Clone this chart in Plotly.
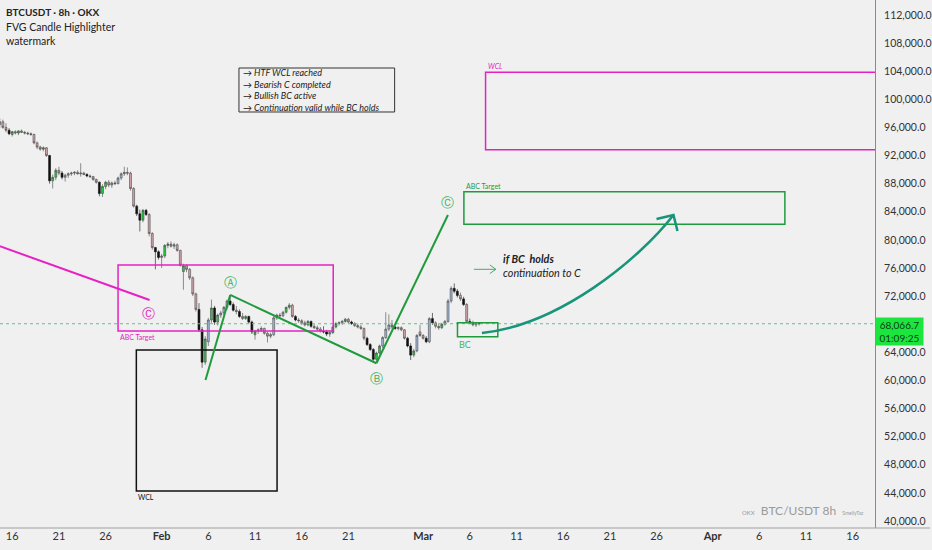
import pandas as pd
import plotly.graph_objects as go

# BTCUSDT 8h candles (OKX), mid Jan -> early Mar 2026
start = "2026-01-14 16:00"

opens = [
    96400, 96800, 96000, 95600, 95000, 95400, 95200, 95500, 95300, 95200,
    95100, 95000, 93800, 93200, 92900, 93100, 92000, 88400, 88900, 89900,
    89500, 88900, 89200, 89400, 89500, 89600, 89400, 89500, 89300, 89100,
    89000, 88600, 88200, 86600, 87600, 88200, 87800, 88100, 88000, 88800,
    89400, 89600, 89500, 87300, 84800, 83700, 82800, 84200, 83600, 80900,
    78900, 78300, 77500, 77700, 79200, 79400, 79100, 79300, 78500, 75500,
    76300, 75800, 74600, 72300, 70100, 67200, 62600, 65500, 68600, 70300,
    68300, 69300, 69600, 70400, 71300, 70800, 70000, 69800, 69100, 68800,
    69100, 68300, 66500, 67000, 67200, 67400, 66700, 66300, 66500, 68900,
    69300, 69200, 69700, 70400, 70700, 69100, 68600, 68500, 68200, 67900,
    68400, 67700, 67500, 67300, 67000, 66900, 66600, 66800, 67600, 68100,
    68200, 68400, 68700, 68300, 68100, 67800, 67600, 67400, 66000, 65100,
    64400, 63000, 63900, 64900, 66100, 67300, 67900, 67600, 67400, 67500,
    67200, 66000, 64900, 63600, 64200, 66900, 66400, 66000, 65500, 68800,
    68200, 67700, 67500, 68000, 68400, 71300, 73100, 72700, 72100, 71600,
    70800, 68400, 68200, 67900, 68100,
]
highs = [
    97300, 97100, 96600, 95900, 95500, 95600, 95600, 95700, 95500, 95400,
    95300, 95100, 94000, 93400, 93300, 93200, 92100, 89300, 90200, 90400,
    89800, 89400, 89600, 89700, 89800, 89900, 90900, 89700, 89500, 89300,
    89100, 88700, 88300, 87900, 88400, 88500, 88300, 88400, 89000, 89600,
    90400, 90300, 89700, 87500, 85000, 84300, 84400, 84400, 83800, 81100,
    79000, 78500, 78000, 79400, 79700, 79800, 79600, 79500, 78600, 76600,
    76500, 76000, 74800, 72500, 71000, 67600, 66300, 68900, 71500, 70600,
    69500, 69900, 70600, 71500, 72100, 71100, 70600, 70100, 69600, 69300,
    69200, 68500, 67200, 67400, 67700, 67500, 66900, 66800, 69200, 69500,
    69600, 69900, 70500, 71000, 70900, 69300, 68900, 68700, 68500, 68600,
    68500, 68000, 67800, 67600, 67700, 67200, 67000, 67800, 68300, 68400,
    68600, 68900, 68900, 68500, 68300, 68100, 67900, 67500, 66200, 65300,
    64600, 64100, 65100, 66300, 69700, 69400, 68600, 67800, 67700, 67700,
    67300, 66200, 65300, 64500, 66600, 67900, 66600, 66300, 69000, 69600,
    68400, 68000, 68200, 68600, 71600, 73400, 73800, 73000, 72500, 71900,
    71000, 68800, 68500, 68300, 68200,
]
lows = [
    95900, 95800, 95300, 94900, 94700, 95000, 94900, 95200, 95000, 94900,
    94800, 93600, 92900, 92700, 92600, 91800, 88000, 87300, 88500, 89200,
    88600, 88300, 88800, 89100, 89200, 89300, 89000, 89200, 88900, 88800,
    88400, 88000, 86200, 86100, 87200, 87500, 87400, 87800, 87900, 88500,
    89100, 89200, 87000, 84600, 83400, 81200, 82500, 83400, 80500, 78600,
    75800, 77200, 76000, 77400, 78800, 78900, 78700, 78300, 76200, 72900,
    75400, 74300, 72000, 69800, 66900, 61800, 62200, 64900, 68200, 67900,
    67800, 68900, 69300, 70000, 70600, 69800, 69400, 68900, 68600, 68600,
    68100, 66600, 65800, 66600, 66900, 66500, 65400, 66000, 66300, 68600,
    68900, 69000, 69500, 70100, 68900, 68400, 68200, 67900, 67700, 67700,
    67500, 67300, 67000, 66800, 66700, 66300, 66200, 66600, 67400, 67800,
    67900, 68200, 68100, 67900, 67600, 67400, 67200, 65700, 64900, 64200,
    62800, 62500, 63700, 64600, 65900, 67000, 67300, 67200, 67100, 67000,
    65800, 64700, 62900, 63300, 64000, 66200, 65800, 65300, 65300, 67900,
    67400, 67200, 67300, 67800, 68200, 71000, 72400, 71800, 71300, 70600,
    68200, 68000, 67700, 67600, 67800,
]
closes = [
    96800, 96000, 95600, 95100, 95400, 95200, 95500, 95300, 95200, 95100,
    95000, 93800, 93200, 92900, 93100, 92000, 88400, 88900, 89900, 89500,
    88900, 89200, 89400, 89500, 89600, 89400, 89500, 89300, 89100, 89000,
    88600, 88200, 86600, 87600, 88200, 87800, 88100, 88000, 88800, 89400,
    89600, 89500, 87300, 84800, 83700, 82800, 84200, 83600, 80900, 78900,
    78300, 77500, 77700, 79200, 79400, 79100, 79300, 78500, 76400, 76300,
    75800, 74600, 72300, 70100, 67200, 62600, 65900, 68600, 70300, 68300,
    69300, 69600, 70400, 71300, 70800, 70000, 69800, 69100, 68800, 69100,
    68300, 66900, 67000, 67200, 67400, 66700, 66300, 66500, 68900, 69300,
    69200, 69700, 70400, 70700, 69100, 68600, 68500, 68200, 67900, 68400,
    67700, 67500, 67300, 67000, 66900, 66600, 66800, 67600, 68100, 68200,
    68400, 68700, 68300, 68100, 67800, 67600, 67400, 66000, 65100, 64400,
    63000, 63900, 64900, 66100, 67300, 67900, 67600, 67400, 67500, 67200,
    66000, 64900, 63600, 64200, 66400, 66400, 66000, 65500, 68800, 68200,
    67700, 67500, 68000, 68400, 71300, 73100, 72700, 72100, 71600, 70800,
    68400, 68200, 67900, 68100, 68066.7,
]
# 1 = candle highlighted by the FVG Candle Highlighter
fvg = [
    0, 0, 0, 1, 1, 0, 1, 0, 0, 0,
    0, 0, 0, 0, 1, 0, 1, 1, 1, 0,
    1, 0, 0, 0, 0, 0, 0, 0, 1, 0,
    0, 0, 1, 1, 1, 0, 0, 0, 0, 0,
    1, 0, 0, 0, 1, 1, 1, 1, 0, 0,
    1, 1, 0, 1, 1, 0, 0, 0, 0, 1,
    0, 0, 0, 0, 1, 1, 1, 0, 1, 1,
    1, 0, 0, 0, 1, 1, 0, 1, 0, 1,
    1, 1, 1, 0, 0, 0, 0, 0, 0, 1,
    0, 0, 1, 1, 0, 1, 0, 0, 0, 1,
    1, 0, 0, 0, 1, 1, 0, 1, 1, 0,
    0, 1, 0, 1, 0, 0, 0, 0, 1, 1,
    1, 1, 1, 0, 0, 0, 0, 1, 0, 0,
    0, 1, 1, 1, 0, 0, 0, 1, 0, 1,
    0, 0, 1, 0, 0, 0, 1, 1, 0, 1,
    0, 1, 0, 0, 0,
]

last_price = 68066.7
countdown = "01:09:25"

tick_dates = [
    "2026-01-16", "2026-01-21", "2026-01-26", "2026-02-01", "2026-02-06",
    "2026-02-11", "2026-02-16", "2026-02-21", "2026-03-01", "2026-03-06",
    "2026-03-11", "2026-03-16", "2026-03-21", "2026-03-26", "2026-04-01",
    "2026-04-06", "2026-04-11", "2026-04-16",
]
tick_text = [
    "16", "21", "26", "<b>Feb</b>", "6", "11", "16", "21", "<b>Mar</b>", "6",
    "11", "16", "21", "26", "<b>Apr</b>", "6", "11", "16",
]
# 68,000 sits under the last-price tag
price_ticks = [
    40000, 44000, 48000, 52000, 56000, 60000, 64000, 72000, 76000, 80000,
    84000, 88000, 92000, 96000, 100000, 104000, 108000, 112000,
]

checklist = [
    "→ HTF WCL reached",
    "→ Bearish C completed",
    "→ Bullish BC active",
    "→ Continuation valid while BC holds",
]

times = pd.date_range(start, periods=len(closes), freq="8h")


def keep(vals, flag):
    return [v if f == flag else None for v, f in zip(vals, fvg)]


FONT = "Lato"
MAGENTA = "#e621c4"
GREEN = "#1f9a3c"
LGREEN = "#3db45f"
TEAL = "#16957a"
LINE = "#474747"

fig = go.Figure()
# plain candles
fig.add_trace(go.Candlestick(
    x=times, open=keep(opens, 0), high=keep(highs, 0),
    low=keep(lows, 0), close=keep(closes, 0),
    increasing=dict(fillcolor="#a3b8dc", line=dict(color=LINE, width=0.6)),
    decreasing=dict(fillcolor="#d3a6ab", line=dict(color=LINE, width=0.6)),
    whiskerwidth=0, showlegend=False,
))
# FVG candles
fig.add_trace(go.Candlestick(
    x=times, open=keep(opens, 1), high=keep(highs, 1),
    low=keep(lows, 1), close=keep(closes, 1),
    increasing=dict(fillcolor="#1fd03c", line=dict(color=LINE, width=0.6)),
    decreasing=dict(fillcolor="#111111", line=dict(color="#111111", width=0.6)),
    whiskerwidth=0, showlegend=False,
))

shapes = [
    # current price line
    dict(type="line", xref="paper", x0=0, x1=1, y0=last_price, y1=last_price,
         line=dict(color="#5cc784", width=1, dash="dot")),
    # bearish leg into the old ABC target
    dict(type="line", x0="2026-01-14 16:00", y0=79100, x1="2026-01-30 17:00", y1=71450,
         line=dict(color=MAGENTA, width=2)),
    dict(type="rect", x0="2026-01-27 08:00", x1="2026-02-19 09:00", y0=67030, y1=76430,
         line=dict(color=MAGENTA, width=1.5)),
    # HTF WCL box
    dict(type="rect", x0="2026-01-29 07:00", x1="2026-02-13 08:40", y0=44260, y1=64330,
         line=dict(color="#111111", width=1.5)),
    # ABC legs
    dict(type="line", x0="2026-02-05 16:50", y0=60060, x1="2026-02-08 08:10", y1=72160,
         line=dict(color=GREEN, width=2)),
    dict(type="line", x0="2026-02-08 08:10", y0=72160, x1="2026-02-24 00:00", y1=62440,
         line=dict(color=GREEN, width=2)),
    dict(type="line", x0="2026-02-24 00:00", y0=62440, x1="2026-03-03 15:50", y1=83540,
         line=dict(color=GREEN, width=2)),
    # new ABC target
    dict(type="rect", x0="2026-03-05 08:50", x1="2026-04-08 17:45", y0=82220, y1=86860,
         line=dict(color=GREEN, width=1.5)),
    # WCL above
    dict(type="rect", x0="2026-03-07 16:30", x1="2026-04-30 00:00", y0=92830, y1=103850,
         line=dict(color=MAGENTA, width=1.5)),
    # BC zone
    dict(type="rect", x0="2026-03-04 16:20", x1="2026-03-09 00:00", y0=66220, y1=68220,
         line=dict(color=GREEN, width=1.5)),
    # projected path
    dict(type="path",
         path="M 2026-03-07_07:05:00 66750 C 2026-03-15_12:30:00 67890 "
              "2026-03-24_01:40:00 77140 2026-03-27_19:25:00 83540",
         line=dict(color=TEAL, width=2.5)),
    dict(type="path",
         path="M 2026-03-25_23:50:00 82970 L 2026-03-27_19:25:00 83540 "
              "L 2026-03-28_05:45:00 81260",
         line=dict(color=TEAL, width=2.5)),
    # small arrow next to the note
    dict(type="path",
         path="M 2026-03-06_10:30:00 75810 L 2026-03-08_19:00:00 75810 "
              "M 2026-03-08_03:30:00 76430 L 2026-03-08_19:00:00 75810 "
              "L 2026-03-08_03:30:00 75210",
         line=dict(color="#4aa86a", width=1)),
    # frame of the checklist note
    dict(type="rect", xref="paper", yref="paper", x0=0.2731, x1=0.4510, y0=0.7879, y1=0.8712,
         line=dict(color="#333333", width=1)),
    # time scale edge under the price scale too
    dict(type="line", xref="paper", yref="paper", x0=0, x1=1.063, y0=0, y1=0,
         line=dict(color="#a0a0a0", width=1)),
]


def note(x, y, text, size=10, color="#222222", xanchor="left", yanchor="middle", **kw):
    return dict(x=x, y=y, text=text, showarrow=False, xanchor=xanchor, yanchor=yanchor,
                font=dict(family=FONT, size=size, color=color), **kw)


annotations = [
    note(0.0045, 0.9773, "<b>BTCUSDT · 8h · OKX</b>", size=10, xref="paper", yref="paper"),
    note(0.0045, 0.9489, "FVG Candle Highlighter", size=10.5, xref="paper", yref="paper"),
    note(0.0045, 0.9223, "watermark", size=10.5, xref="paper", yref="paper"),
    note(0.2759, 0.8290, "<i>" + "<br>".join(checklist) + "</i>", size=9,
         xref="paper", yref="paper", align="left"),
    note("2026-01-27 08:00", 67030, "ABC Target", size=7, color=MAGENTA, yanchor="top"),
    note("2026-01-30 14:40", 69600, "Ⓒ", size=13, color=MAGENTA, xanchor="center"),
    note("2026-01-29 07:00", 44260, "WCL", size=7, color="#111111", yanchor="top"),
    note("2026-02-08 08:50", 74000, "Ⓐ", size=13, color=LGREEN, xanchor="center"),
    note("2026-02-23 23:20", 60350, "Ⓑ", size=13, color=LGREEN, xanchor="center"),
    note("2026-03-03 15:50", 85400, "Ⓒ", size=13, color=LGREEN, xanchor="center"),
    note("2026-03-05 08:50", 86860, "ABC Target", size=7, color=GREEN, yanchor="bottom"),
    note("2026-03-07 16:30", 103850, "<i>WCL</i>", size=7, color=MAGENTA, yanchor="bottom"),
    note("2026-03-04 16:20", 66220, "BC", size=9, color=LGREEN, yanchor="top"),
    note("2026-03-09 07:45", 76350,
         "<b><i>if BC\u00a0 holds</i></b><br><i>continuation to C</i>",
         size=10.8, align="left"),
    note(0.918, 0.034,
         "<span style='font-size:6px'>OKX</span>  BTC/USDT 8h  "
         "<span style='font-size:5px'>SmellyTaz</span>",
         size=12, color="#9a9a9a", xanchor="center", xref="paper", yref="paper"),
    dict(x=1, y=last_price, xref="paper", yref="y", xanchor="left", yanchor="top",
         yshift=7, xshift=0,
         text=f"{last_price:,.1f}<br>{countdown}", showarrow=False, align="center",
         bgcolor="#1be63e", borderpad=1, width=45,
         font=dict(family=FONT, size=10, color="#0b3d16")),
]

fig.update_layout(
    width=932, height=550,
    margin=dict(l=0, r=55, t=0, b=22),
    paper_bgcolor="#f0f0f0", plot_bgcolor="#f0f0f0",
    font=dict(family=FONT, size=11, color="#333333"),
    showlegend=False,
    boxgap=0.12,
    shapes=shapes,
    annotations=annotations,
)
fig.update_xaxes(
    type="date",
    range=["2026-01-14 16:37", "2026-04-18 09:20"],
    tickvals=tick_dates, ticktext=tick_text,
    showgrid=False, zeroline=False, ticks="",
    showline=False,
    rangeslider=dict(visible=False),
    tickfont=dict(size=11, color="#333333"),
)
fig.update_yaxes(
    side="right",
    range=[39000, 114130],
    tickvals=price_ticks, tickformat=",.1f",
    showgrid=False, zeroline=False, ticks="",
    showline=True, linecolor="#8a8a8a", linewidth=1,
    ticklabelstandoff=6,
    tickfont=dict(size=10.5, color="#333333"),
)

fig.write_html("out.html", config={"displayModeBar": False},
               post_script="document.body.style.margin='0';")
